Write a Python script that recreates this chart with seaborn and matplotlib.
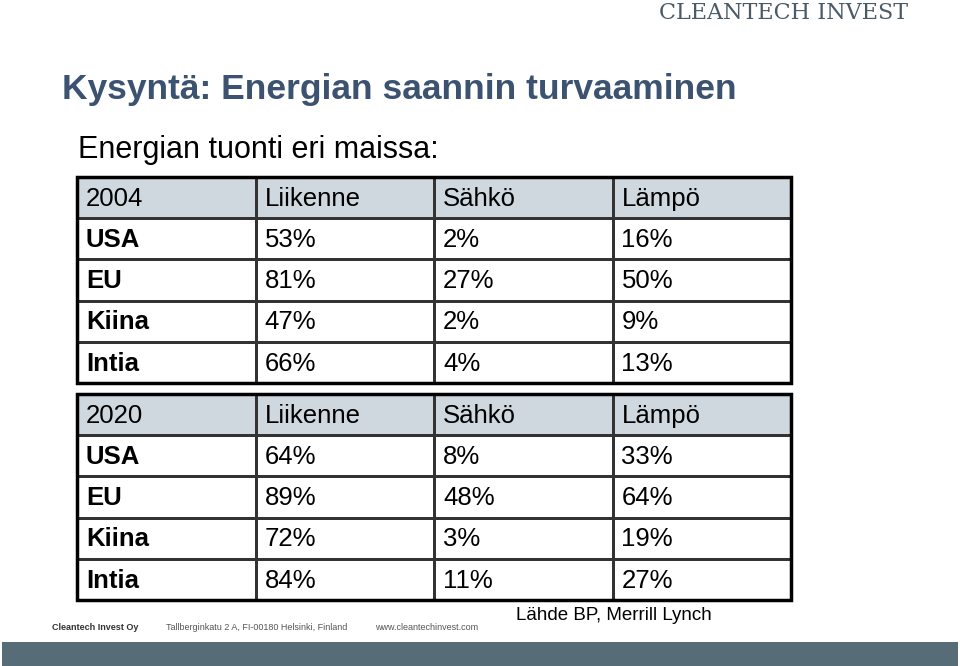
import numpy as np
import seaborn as sns
import matplotlib.pyplot as plt
from matplotlib.colors import ListedColormap
from matplotlib.patches import Rectangle

header = ["Liikenne", "Sähkö", "Lämpö"]
countries = ["USA", "EU", "Kiina", "Intia"]
years = ["2004", "2020"]
values_2004 = [[53, 2, 16], [81, 27, 50], [47, 2, 9], [66, 4, 13]]
values_2020 = [[64, 8, 33], [89, 48, 64], [72, 3, 19], [84, 11, 27]]

W, H = 960, 666
fig = plt.figure(figsize=(9.6, 6.66), dpi=100)
fig.patch.set_facecolor("white")
font = "Liberation Sans"


def draw_table(top, year, vals):
    ax = fig.add_axes([77 / W, (H - top - 206) / H, 714 / W, 206 / H])
    shade = np.zeros((5, 4))
    shade[0, :] = 1
    sns.heatmap(shade, ax=ax, cmap=ListedColormap(["white", "#cfd8df"]), cbar=False,
                linewidths=1.0, linecolor="#333333", xticklabels=False, yticklabels=False)
    ax.add_patch(Rectangle((0, 0), 4, 5, fill=False, lw=2.5, ec="black", clip_on=False))
    rows = [[year] + header] + [[c] + [f"{v}%" for v in r] for c, r in zip(countries, vals)]
    for i, row in enumerate(rows):
        for j, txt in enumerate(row):
            bold = (j == 0 and i > 0)
            ax.text(j + 0.05, i + 0.53, txt, va="center", ha="left", fontsize=18.5,
                    family=font, fontweight="bold" if bold else "normal", color="black")


draw_table(177, years[0], values_2004)
draw_table(394, years[1], values_2020)

fig.text(62 / W, 1 - 90 / H, "Kysyntä: Energian saannin turvaaminen", fontsize=25.5,
         fontweight="bold", color="#3b5270", family=font, va="center")
fig.text(78 / W, 1 - 150 / H, "Energian tuonti eri maissa:", fontsize=22,
         color="black", family=font, va="center")
fig.text(908 / W, 1 - 13 / H, "CLEANTECH INVEST", fontsize=16, color="#4a5a66",
         family="DejaVu Serif", ha="right", va="center")
fig.text(516 / W, 1 - 616 / H, "Lähde BP, Merrill Lynch", fontsize=13.5, family=font, va="center")
fig.text(52 / W, 1 - 627 / H, "Cleantech Invest Oy", fontsize=6.5, fontweight="bold",
         color="#333333", family=font, va="center")
fig.text(166 / W, 1 - 627 / H, "Tallberginkatu 2 A, FI-00180 Helsinki, Finland", fontsize=6.5,
         color="#555555", family=font, va="center")
fig.text(375 / W, 1 - 627 / H, "www.cleantechinvest.com", fontsize=6.5,
         color="#555555", family=font, va="center")
fig.add_artist(Rectangle((2 / W, 0), 956 / W, 24 / H, transform=fig.transFigure,
                         color="#566d78", lw=0))

fig.savefig("out.png", dpi=100)
